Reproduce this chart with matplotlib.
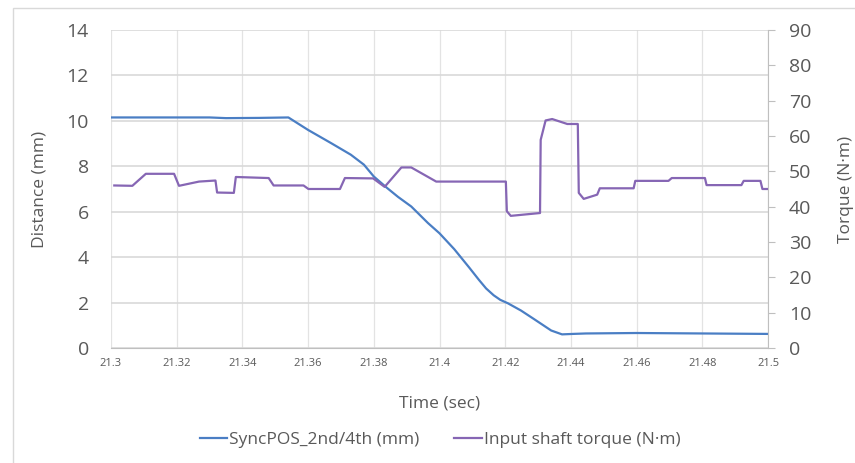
import matplotlib.pyplot as plt
from matplotlib.patches import Rectangle

plt.rcParams['font.family'] = ['Open Sans', 'DejaVu Sans']

# synchronizer sleeve position (mm)
sync_time = [21.300, 21.330, 21.335, 21.345, 21.354, 21.360, 21.367, 21.373,
             21.377, 21.380, 21.384, 21.3874, 21.3914, 21.3965, 21.400,
             21.4045, 21.409, 21.412, 21.4142, 21.4165, 21.4185, 21.4208,
             21.4248, 21.4287, 21.434, 21.4373, 21.4406, 21.4446, 21.460,
             21.480, 21.500]
sync_pos = [10.15, 10.15, 10.12, 10.13, 10.15, 9.60, 9.02, 8.51,
            8.07, 7.55, 7.05, 6.65, 6.23, 5.50, 5.05,
            4.35, 3.55, 3.00, 2.62, 2.32, 2.12, 1.97,
            1.65, 1.28, 0.77, 0.60, 0.62, 0.64, 0.66,
            0.64, 0.62]

# input shaft torque (N·m)
torque_time = [21.301, 21.3065, 21.3106, 21.3192, 21.3207, 21.3268, 21.3318,
               21.3323, 21.3374, 21.338, 21.348, 21.3495, 21.3586, 21.3601,
               21.3697, 21.3712, 21.3798, 21.3833, 21.3884, 21.3914, 21.399,
               21.4202, 21.4205, 21.4217, 21.4306, 21.4308, 21.4323, 21.4343,
               21.4389, 21.4421, 21.4424, 21.4439, 21.448, 21.4488, 21.4591,
               21.4596, 21.4697, 21.4707, 21.4808, 21.4813, 21.4919, 21.4926,
               21.4977, 21.4983, 21.500]
torque = [46.0, 45.9, 49.3, 49.3, 45.9, 47.1, 47.4,
          44.0, 43.9, 48.4, 48.1, 46.0, 46.0, 45.0,
          45.0, 48.1, 48.0, 45.6, 51.1, 51.1, 47.1,
          47.1, 38.7, 37.4, 38.2, 58.9, 64.4, 64.8,
          63.4, 63.4, 43.9, 42.2, 43.4, 45.2, 45.2,
          47.3, 47.3, 48.1, 48.1, 46.1, 46.1, 47.3,
          47.3, 45.0, 45.0]

x_ticks = [21.3, 21.32, 21.34, 21.36, 21.38, 21.4, 21.42, 21.44, 21.46, 21.48, 21.5]
x_labels = ['21.3', '21.32', '21.34', '21.36', '21.38', '21.4',
            '21.42', '21.44', '21.46', '21.48', '21.5']
dist_ticks = [0, 2, 4, 6, 8, 10, 12, 14]
torque_ticks = [0, 10, 20, 30, 40, 50, 60, 70, 80, 90]

text_color = '#595959'
blue = '#4a7ec4'
purple = '#8666b4'

fig = plt.figure(figsize=(8.55, 4.63), dpi=100)
fig.patches.append(Rectangle((13 / 855, -0.1), 1.2, 1.1 - 8 / 463,
                             transform=fig.transFigure, fill=False,
                             edgecolor='#d9d9d9', linewidth=1))

ax = fig.add_axes([111 / 855, 1 - 348 / 463, 657 / 855, 318 / 463])
ax2 = ax.twinx()

l1, = ax.plot(sync_time, sync_pos, color=blue, linewidth=1.6,
              label='SyncPOS_2nd/4th (mm)', zorder=3, solid_joinstyle='round')
l2, = ax2.plot(torque_time, torque, color=purple, linewidth=1.6,
               label='Input shaft torque (N·m)', zorder=3, solid_joinstyle='round')

ax.set_xlim(21.3, 21.5)
ax.set_ylim(0, 14)
ax2.set_ylim(0, 90)
ax.set_xticks(x_ticks)
ax.set_xticklabels(x_labels)
ax.set_yticks(dist_ticks)
ax2.set_yticks(torque_ticks)

# gridlines: horizontal from the distance axis, vertical at each time tick
ax.grid(axis='y', color='#d9d9d9', linewidth=1.2)
ax.grid(axis='x', color='#e3e3e3', linewidth=0.9)
ax.set_axisbelow(True)

for a in (ax, ax2):
    for side in ('top', 'left', 'right', 'bottom'):
        a.spines[side].set_visible(False)
ax.spines['bottom'].set_visible(True)
ax.spines['bottom'].set_color('#bfbfbf')
ax2.spines['right'].set_visible(True)
ax2.spines['right'].set_color('#bfbfbf')

ax.tick_params(axis='x', length=0, pad=7, labelsize=8, labelcolor=text_color)
ax.tick_params(axis='y', length=0, pad=16, labelsize=14, labelcolor=text_color)
ax2.tick_params(axis='y', length=5, width=0.8, color='#bfbfbf', pad=10,
                labelsize=14, labelcolor=text_color)

ax.set_xlabel('Time (sec)', fontsize=12.5, color=text_color)
ax.xaxis.set_label_coords(0.5, -0.148)
ax.set_ylabel('Distance (mm)', fontsize=12.5, color=text_color)
ax.yaxis.set_label_coords(-0.097, 0.5)
ax2.set_ylabel('Torque (N·m)', fontsize=12.5, color=text_color)
ax2.yaxis.set_label_coords(1.106, 0.5)

fig.legend(handles=[l1, l2], loc='center', bbox_to_anchor=(440 / 855, 1 - 440 / 463),
           ncol=2, frameon=False, fontsize=12.5, handlelength=1.6,
           handletextpad=0.1, columnspacing=2.0, labelcolor=text_color)

fig.savefig('out.png', dpi=100)
